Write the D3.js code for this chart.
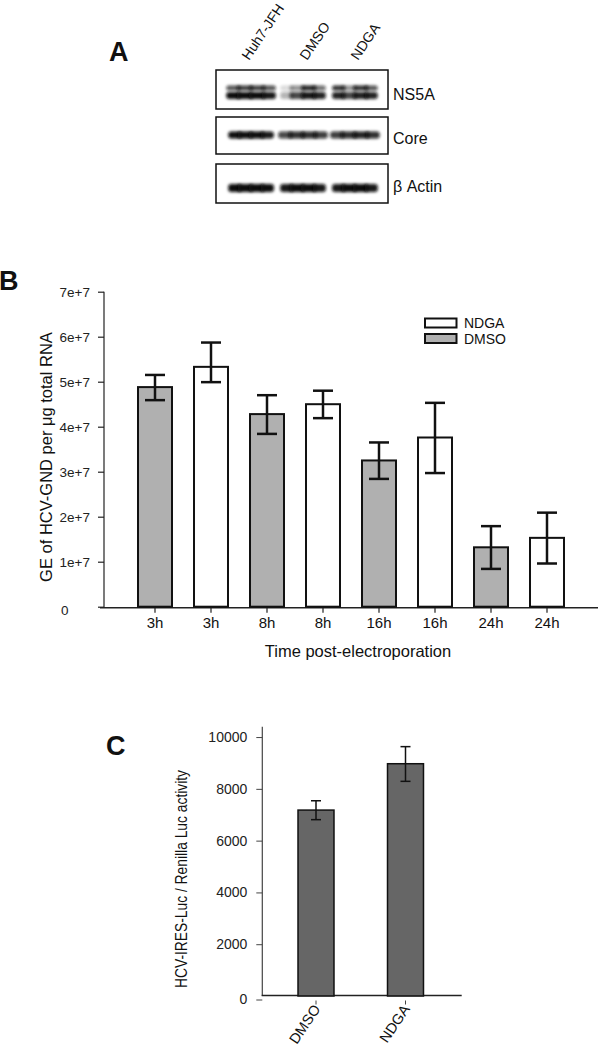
<!DOCTYPE html>
<html>
<head>
<meta charset="utf-8">
<script src="https://cdn.jsdelivr.net/npm/d3@7"></script>
<style>
  html, body { margin: 0; padding: 0; background: #fff; }
  svg { display: block; font-family: "Liberation Sans", Arial, sans-serif; }
</style>
</head>
<body>
<svg id="chart" width="598" height="1048"></svg>
<script>
// ---------- Panel A: western blot ----------
const blotLanes = ["Huh7-JFH", "DMSO", "NDGA"];
const blotRows = ["NS5A", "Core", "β Actin"];
// band intensities per lane, split into 4 segments across the lane width
const ns5aUpper = [[0.7, 0.8, 0.8, 0.7], [0.15, 0.45, 0.9, 0.6], [0.85, 0.45, 0.85, 0.7]];
const ns5aLower = [[1.0, 1.0, 1.0, 0.95], [0.3, 0.75, 0.95, 0.9], [0.9, 0.75, 0.9, 0.9]];
const coreBand = [[1.0, 1.0, 1.0, 0.95], [0.75, 0.85, 0.85, 0.8], [0.8, 0.85, 0.9, 0.85]];
const actinBand = [[1.0, 1.0, 1.0, 1.0], [0.95, 1.0, 1.0, 0.95], [0.95, 1.0, 1.0, 0.95]];

// ---------- Panel B ----------
const bCategories = ["3h", "3h", "8h", "8h", "16h", "16h", "24h", "24h"];
const bGroups = ["DMSO", "NDGA", "DMSO", "NDGA", "DMSO", "NDGA", "DMSO", "NDGA"];
const bValues = [4.88e7, 5.33e7, 4.28e7, 4.50e7, 3.25e7, 3.76e7, 1.32e7, 1.53e7];
const bErrHigh = [5.15e7, 5.87e7, 4.70e7, 4.80e7, 3.65e7, 4.53e7, 1.79e7, 2.09e7];
const bErrLow = [4.59e7, 4.99e7, 3.84e7, 4.19e7, 2.84e7, 2.97e7, 0.84e7, 0.96e7];
const bTickValues = [0, 1e7, 2e7, 3e7, 4e7, 5e7, 6e7, 7e7];
const bTickLabels = ["0", "1e+7", "2e+7", "3e+7", "4e+7", "5e+7", "6e+7", "7e+7"];
const bLegend = ["NDGA", "DMSO"];

// ---------- Panel C ----------
const cCategories = ["DMSO", "NDGA"];
const cValues = [7180, 8970];
const cErrHigh = [7540, 9630];
const cErrLow = [6810, 8290];
const cTickValues = [0, 2000, 4000, 6000, 8000, 10000];

const svg = d3.select("#chart");
svg.append("rect").attr("width", 598).attr("height", 1048).attr("fill", "#fff");

const defs = svg.append("defs");
defs.append("filter").attr("id", "blur").attr("x", "-50%").attr("y", "-150%")
  .attr("width", "200%").attr("height", "400%")
  .append("feGaussianBlur").attr("stdDeviation", "1.8 1.4");

// ===== Panel A =====
const gA = svg.append("g");
gA.append("text").attr("x", 109).attr("y", 61).attr("font-size", 27)
  .attr("font-weight", "bold").attr("fill", "#111").text("A");

const laneX = d3.scaleBand().domain(blotLanes).range([222, 384]).padding(0.12);
const rowY = d3.scaleOrdinal().domain(blotRows).range([[70, 109], [117, 154], [164, 203]]);

blotRows.forEach(r => {
  const [y0, y1] = rowY(r);
  gA.append("rect").attr("x", 216).attr("y", y0).attr("width", 172).attr("height", y1 - y0)
    .attr("fill", "#fff").attr("stroke", "#111").attr("stroke-width", 1.5);
});

function band(lane, yc, h, segs, widen) {
  const x0 = laneX(lane) - (widen || 0);
  const w = laneX.bandwidth() + 2 * (widen || 0);
  const sw = w / segs.length;
  segs.forEach((v, k) => {
    gA.append("rect").attr("x", x0 + k * sw - (k === 0 ? 0 : 2)).attr("y", yc - h / 2)
      .attr("width", sw + (k === 0 ? 2 : 4) - (k === segs.length - 1 ? 2 : 0)).attr("height", h)
      .attr("rx", Math.min(h / 2, 3)).attr("fill", "#0a0a0a").attr("opacity", v)
      .attr("filter", "url(#blur)");
  });
}
blotLanes.forEach((l, i) => {
  band(l, 88, 5, ns5aUpper[i], i === 0 ? 2 : 0);
  band(l, 95.5, 7, ns5aLower[i], i === 0 ? 2 : 0);
  band(l, 135, 7, coreBand[i], i === 0 ? 0 : 2);
  band(l, 188, 8, actinBand[i], 0);
});
// lane labels
const laneLabelX = [249, 307, 358];
blotLanes.forEach((l, i) => {
  gA.append("text").attr("transform", `translate(${laneLabelX[i]},61) rotate(-56)`)
    .attr("font-size", 14).attr("fill", "#111").text(l);
});
const rowLabelY = [100, 144, 192];
blotRows.forEach((r, i) => {
  gA.append("text").attr("x", 393).attr("y", rowLabelY[i]).attr("font-size", 16)
    .attr("fill", "#111").text(r);
});

// ===== Panel B =====
const gB = svg.append("g");
gB.append("text").attr("x", -1).attr("y", 290).attr("font-size", 27)
  .attr("font-weight", "bold").attr("fill", "#111").text("B");

const xB = d3.scaleBand().domain(d3.range(bValues.length)).range([127, 575])
  .paddingInner(0.393).paddingOuter(0.1965);
const yB = d3.scaleLinear().domain([0, 7e7]).range([606.7, 291.7]);
const fillB = d3.scaleOrdinal().domain(["DMSO", "NDGA"]).range(["#b0b0b0", "#ffffff"]);

// axes
const yAxisB = d3.axisLeft(yB).tickValues(bTickValues).tickSize(6)
  .tickFormat((d, i) => bTickLabels[i]);
const gyB = gB.append("g").attr("transform", "translate(104,0)").call(yAxisB);
gyB.select(".domain").remove();
gyB.selectAll(".tick line").attr("stroke", "#222").attr("stroke-width", 1.2);
gyB.selectAll(".tick text").attr("font-size", 13.5).attr("fill", "#222")
  .attr("font-family", "Liberation Sans, Arial, sans-serif").attr("x", -14);
gyB.selectAll(".tick").filter(d => d === 0).select("text")
  .attr("text-anchor", "start").attr("x", -43).attr("dy", "0.6em");
gB.append("line").attr("x1", 104).attr("x2", 104).attr("y1", 291.7).attr("y2", 607.7)
  .attr("stroke", "#222").attr("stroke-width", 1.2);

const xAxisB = d3.axisBottom(xB).tickSize(5).tickFormat(i => bCategories[i]);
const gxB = gB.append("g").attr("transform", "translate(0,607.7)").call(xAxisB);
gxB.select(".domain").remove();
gxB.selectAll(".tick line").attr("stroke", "#222").attr("stroke-width", 1.2);
gxB.selectAll(".tick text").attr("font-size", 15).attr("fill", "#111")
  .attr("font-family", "Liberation Sans, Arial, sans-serif").attr("y", 10).attr("dy", "0.71em");
gB.append("line").attr("x1", 100).attr("x2", 598).attr("y1", 607.7).attr("y2", 607.7)
  .attr("stroke", "#222").attr("stroke-width", 1.5);

// bars
gB.selectAll("rect.bar").data(bValues).join("rect").attr("class", "bar")
  .attr("x", (d, i) => xB(i)).attr("width", xB.bandwidth())
  .attr("y", d => yB(d)).attr("height", d => yB(0) - yB(d))
  .attr("fill", (d, i) => fillB(bGroups[i])).attr("stroke", "#111").attr("stroke-width", 2);

// error bars
const capB = 10;
bValues.forEach((v, i) => {
  const cx = xB(i) + xB.bandwidth() / 2;
  const g = gB.append("g").attr("stroke", "#111").attr("stroke-width", 2.5);
  g.append("line").attr("x1", cx).attr("x2", cx).attr("y1", yB(bErrHigh[i])).attr("y2", yB(bErrLow[i]));
  g.append("line").attr("x1", cx - capB).attr("x2", cx + capB).attr("y1", yB(bErrHigh[i])).attr("y2", yB(bErrHigh[i]));
  g.append("line").attr("x1", cx - capB).attr("x2", cx + capB).attr("y1", yB(bErrLow[i])).attr("y2", yB(bErrLow[i]));
});

// legend
bLegend.forEach((name, i) => {
  const ly = 318.5 + i * 15.5;
  gB.append("rect").attr("x", 425).attr("y", ly).attr("width", 31.5).attr("height", 9)
    .attr("fill", fillB(name)).attr("stroke", "#111").attr("stroke-width", 2);
  gB.append("text").attr("x", 464).attr("y", ly + 9.5).attr("font-size", 14).attr("fill", "#111").text(name);
});

// axis titles
gB.append("text").attr("x", 358).attr("y", 657).attr("text-anchor", "middle")
  .attr("font-size", 16.5).attr("fill", "#111").text("Time post-electroporation");
gB.append("text").attr("transform", "translate(52,457) rotate(-90)").attr("text-anchor", "middle")
  .attr("font-size", 16.5).attr("fill", "#111").text("GE of HCV-GND per μg total RNA");

// ===== Panel C =====
const gC = svg.append("g");
gC.append("text").attr("x", 106).attr("y", 755).attr("font-size", 27)
  .attr("font-weight", "bold").attr("fill", "#111").text("C");

const xC = d3.scaleBand().domain(cCategories).range([271.25, 450.25])
  .paddingInner(0.598).paddingOuter(0.299);
const yC = d3.scaleLinear().domain([0, 10400]).range([996, 726.7]);

const yAxisC = d3.axisLeft(yC).tickValues(cTickValues).tickSize(6).tickFormat(d3.format("d"));
const gyC = gC.append("g").attr("transform", "translate(262.3,0)").call(yAxisC);
gyC.select(".domain").remove();
gyC.selectAll(".tick line").attr("stroke", "#444").attr("stroke-width", 1);
gyC.selectAll(".tick text").attr("font-size", 14).attr("fill", "#222")
  .attr("font-family", "Liberation Sans, Arial, sans-serif").attr("x", -15);
gyC.selectAll(".tick").filter(d => d === 0).attr("transform", `translate(0,${yC(0) + 4})`);
gC.append("line").attr("x1", 262.3).attr("x2", 262.3).attr("y1", 726.7).attr("y2", 996)
  .attr("stroke", "#444").attr("stroke-width", 1.2);

const xAxisC = d3.axisBottom(xC).tickSize(4).tickFormat("");
const gxC = gC.append("g").attr("transform", "translate(0,1000.5)").call(xAxisC);
gxC.select(".domain").remove();
gxC.selectAll(".tick line").attr("stroke", "#444").attr("stroke-width", 1);
gC.append("line").attr("x1", 261.7).attr("x2", 461.7).attr("y1", 995.5).attr("y2", 995.5)
  .attr("stroke", "#222").attr("stroke-width", 1.5);

cCategories.forEach(c => {
  const cx = xC(c) + xC.bandwidth() / 2;
  gC.append("text").attr("transform", `translate(${cx + 5},1009) rotate(-56)`)
    .attr("text-anchor", "end").attr("font-size", 14.5).attr("fill", "#111").text(c);
});

gC.selectAll("rect.bar").data(cValues).join("rect").attr("class", "bar")
  .attr("x", (d, i) => xC(cCategories[i])).attr("width", xC.bandwidth())
  .attr("y", d => yC(d)).attr("height", d => yC(0) - yC(d))
  .attr("fill", "#666666").attr("stroke", "#111").attr("stroke-width", 1.5);

const capC = 5;
cValues.forEach((v, i) => {
  const cx = xC(cCategories[i]) + xC.bandwidth() / 2;
  const g = gC.append("g").attr("stroke", "#111").attr("stroke-width", 1.5);
  g.append("line").attr("x1", cx).attr("x2", cx).attr("y1", yC(cErrHigh[i])).attr("y2", yC(cErrLow[i]));
  g.append("line").attr("x1", cx - capC).attr("x2", cx + capC).attr("y1", yC(cErrHigh[i])).attr("y2", yC(cErrHigh[i]));
  g.append("line").attr("x1", cx - capC).attr("x2", cx + capC).attr("y1", yC(cErrLow[i])).attr("y2", yC(cErrLow[i]));
});

gC.append("text").attr("transform", "translate(187,879) rotate(-90)").attr("text-anchor", "middle")
  .attr("font-size", 16).attr("fill", "#111")
  .attr("textLength", 218).attr("lengthAdjust", "spacingAndGlyphs")
  .text("HCV-IRES-Luc / Renilla Luc activity");
</script>
</body>
</html>
